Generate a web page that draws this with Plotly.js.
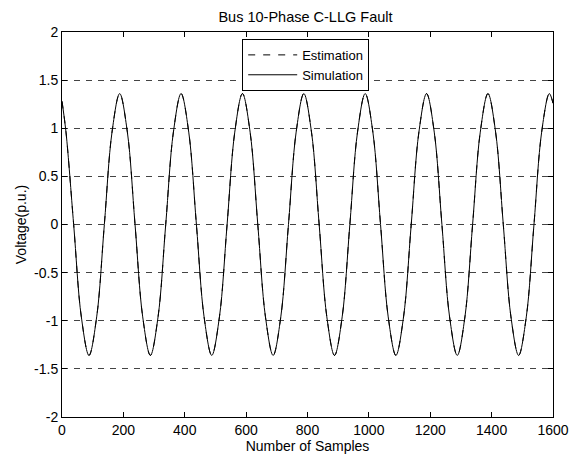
<!DOCTYPE html>
<html>
<head>
<meta charset="utf-8">
<script src="https://cdn.plot.ly/plotly-3.0.1.min.js"></script>
<style>html,body{margin:0;padding:0;background:#fff;}#chart{width:571px;height:456px;}</style>
</head>
<body>
<div id="chart"></div>
<script>
// Samples (peaks, troughs, zero crossings and mid-slope points)
const samples = [0, 13, 38, 63, 88, 113, 138, 163, 188, 213, 238, 263, 288, 313, 338, 363, 388,
  413, 438, 463, 488, 513, 538, 563, 588, 613, 638, 663, 688, 713, 738, 763, 788,
  813, 838, 863, 888, 913, 938, 963, 988, 1013, 1038, 1063, 1088, 1113, 1138, 1163, 1188,
  1213, 1238, 1263, 1288, 1313, 1338, 1363, 1388, 1413, 1438, 1463, 1488, 1513, 1538, 1563, 1588, 1600];
const simulation = [1.28, 0.96, 0, -0.96, -1.36, -0.96, 0, 0.96, 1.36,
  0.96, 0, -0.96, -1.36, -0.96, 0, 0.96, 1.36,
  0.96, 0, -0.96, -1.36, -0.96, 0, 0.96, 1.36,
  0.96, 0, -0.96, -1.36, -0.96, 0, 0.96, 1.36,
  0.96, 0, -0.96, -1.36, -0.96, 0, 0.96, 1.36,
  0.96, 0, -0.96, -1.36, -0.96, 0, 0.96, 1.36,
  0.96, 0, -0.96, -1.36, -0.96, 0, 0.96, 1.36,
  0.96, 0, -0.96, -1.36, -0.96, 0, 0.96, 1.36, 1.26];
const estimation = simulation.slice();
const xTicks = [0, 200, 400, 600, 800, 1000, 1200, 1400, 1600];
const yTicks = [-2, -1.5, -1, -0.5, 0, 0.5, 1, 1.5, 2];
const yTickLabels = ['-2', '-1.5', '-1', '-0.5', '0', '0.5', '1', '1.5', '2'];

const font = {family: 'Liberation Sans, Arial, sans-serif', size: 14, color: '#000'};

const traces = [
  {x: samples, y: estimation, name: 'Estimation', mode: 'lines', type: 'scatter',
   line: {color: '#000', width: 1, dash: '7px,8px', shape: 'spline', smoothing: 1}},
  {x: samples, y: simulation, name: 'Simulation', mode: 'lines', type: 'scatter',
   line: {color: '#000', width: 1, shape: 'spline', smoothing: 1}}
];

const layout = {
  width: 571, height: 456,
  margin: {l: 62, r: 18, t: 32, b: 39},
  paper_bgcolor: '#fff', plot_bgcolor: '#fff',
  font: font,
  title: {text: 'Bus 10-Phase C-LLG Fault', font: {family: font.family, size: 14.5, color: '#000'},
          x: 0.535, xanchor: 'center', y: 0.963, yanchor: 'middle'},
  showlegend: true,
  legend: {x: 0.367, y: 0.982, xanchor: 'left', yanchor: 'top',
           bordercolor: '#000', borderwidth: 1, bgcolor: '#fff',
           font: {family: font.family, size: 13, color: '#000'},
           tracegroupgap: 0, itemwidth: 49},
  xaxis: {range: [0, 1600], tickvals: xTicks, ticktext: xTicks.map(String),
          showgrid: false, zeroline: false, showline: true, linecolor: '#000', linewidth: 1,
          mirror: 'ticks', ticks: 'inside', ticklen: 5, tickcolor: '#000',
          tickfont: font,
          title: {text: 'Number of Samples', font: font, standoff: 2}},
  yaxis: {range: [-2, 2], tickvals: yTicks, ticktext: yTickLabels,
          showgrid: true, gridcolor: '#444', gridwidth: 1, griddash: '6px,6px',
          zeroline: false, showline: true, linecolor: '#000', linewidth: 1,
          mirror: 'ticks', ticks: 'inside', ticklen: 5, tickcolor: '#000',
          tickfont: font,
          title: {text: 'Voltage(p.u.)', font: font, standoff: 4}}
};

Plotly.newPlot('chart', traces, layout, {displayModeBar: false, staticPlot: true});
</script>
</body>
</html>
